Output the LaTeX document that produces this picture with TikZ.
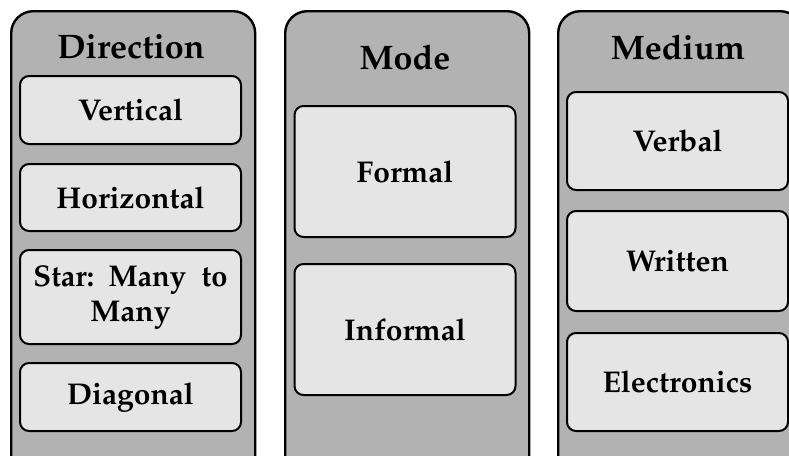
\documentclass[tikz,border=0pt]{standalone}
\usepackage[T1]{fontenc}
\usepackage{mathpazo}
\usepackage{graphicx}
\usepackage{xcolor}
\usepackage{tikz}
\usetikzlibrary{positioning}

\definecolor{colgray}{gray}{0.70}
\definecolor{boxgray}{gray}{0.90}

\begin{document}
\begin{tikzpicture}[
  x=1pt, y=-1pt,
  col/.style={draw, line width=2.4pt, rounded corners=22pt, fill=colgray,
              minimum width=244pt, minimum height=470pt, anchor=north west},
  head/.style={font=\fontsize{34}{40}\selectfont\bfseries},
  item/.style={draw, line width=2pt, rounded corners=9pt, fill=boxgray,
               minimum width=221pt, text width=215pt, align=center,
               inner sep=0pt, font=\fontsize{30}{35}\selectfont\bfseries}
]
  \useasboundingbox (0,0) rectangle (789,455);
  \clip (0,0) rectangle (789,455);

  % columns
  \node[col] (dircol) at (10,10)  {};
  \node[col] (modcol) at (284,10) {};
  \node[col] (medcol) at (557,10) {};

  \node[head] (dir) at (131,47)   {Direction};
  \node[head] (mod) at (405,57)   {Mode};
  \node[head] (med) at (678,47)   {Medium};

  % direction
  \node[item, minimum height=68pt] (vert)  at (130.5,110) {Vertical};
  \node[item, minimum height=67pt] (horiz) [below=18pt of vert]  {Horizontal};
  \node[item, minimum height=94pt] (star)  [below=17pt of horiz]
    {\resizebox{194pt}{\height}{Star: Many\hspace{6pt} to}\\Many};
  \node[item, minimum height=68pt] (diag)  [below=17pt of star]  {Diagonal};

  % mode
  \node[item, minimum height=131pt] (formal)   at (405,171.5) {Formal};
  \node[item, minimum height=131pt] (informal) [below=25pt of formal] {Informal};

  % medium
  \node[item, minimum height=98pt]  (verbal)  at (677.5,141) {Verbal};
  \node[item, minimum height=100pt] (written) [below=19pt of verbal]  {Written};
  \node[item, minimum height=98pt]  (elec)    [below=20pt of written] {Electronics};
\end{tikzpicture}
\end{document}
